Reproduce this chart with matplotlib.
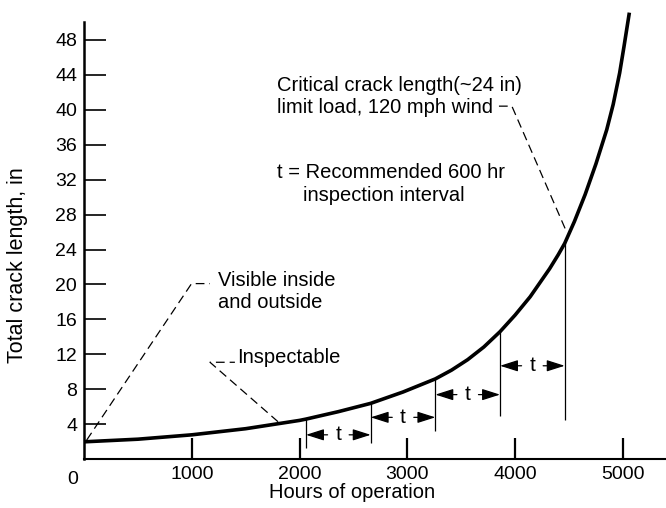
import matplotlib
matplotlib.use('Agg')
import matplotlib.pyplot as plt

# crack growth curve
hours = [0, 500, 1000, 1500, 2000, 2060, 2360, 2660, 2960, 3260, 3410, 3560, 3710, 3860,
         4000, 4140, 4320, 4400, 4460, 4550, 4650, 4750, 4850, 4910, 4970, 5010, 5060]
crack = [2.0, 2.3, 2.8, 3.5, 4.45, 4.6, 5.45, 6.4, 7.7, 9.2, 10.2, 11.4, 12.85, 14.6,
         16.5, 18.6, 21.8, 23.4, 24.7, 27.2, 30.3, 33.8, 37.7, 40.6, 44.2, 47.2, 51.1]

# 600 hr inspection marks
insp_hours = [2060, 2660, 3260, 3860, 4460]
insp_top = [4.6, 6.4, 9.2, 14.6, 24.7]
insp_bottom = [1.3, 1.9, 3.2, 5.0, 4.5]
arrow_y = [2.8, 4.8, 7.4, 10.7]

xticks = [1000, 2000, 3000, 4000, 5000]
yticks = [4, 8, 12, 16, 20, 24, 28, 32, 36, 40, 44, 48]

plt.rcParams['font.family'] = ['Liberation Sans', 'DejaVu Sans']
plt.rcParams['font.size'] = 14

fig = plt.figure(figsize=(6.66, 5.08), dpi=100)
ax = fig.add_axes([84/666, 1 - 459.3/508, 582/666, 449.3/508])
ax.set_xlim(0, 5400)
ax.set_ylim(0, 51.4)

ax.plot(hours, crack, color='black', lw=2.6, clip_on=False,
        solid_capstyle='butt', solid_joinstyle='round')
ax.vlines(insp_hours, insp_bottom, insp_top, color='black', lw=0.9)

for i in range(len(arrow_y)):
    a, b = insp_hours[i], insp_hours[i + 1]
    mid = (a + b) / 2
    y = arrow_y[i]
    for start, end in [(mid - 100, a), (mid + 100, b)]:
        ax.annotate('', xy=(end, y), xytext=(start, y),
                    arrowprops=dict(arrowstyle='-|>,head_length=1.1,head_width=0.35',
                                    color='black', lw=0.9, shrinkA=0, shrinkB=0,
                                    mutation_scale=10))
    ax.text(mid, y, 't', ha='center', va='center', fontsize=15)

dash = (0, (7, 4))
# leaders
ax.plot([25, 998, 1169], [2.2, 20.1, 20.1], color='black', lw=0.9, ls=dash)
ax.plot([1800, 1169, 1400], [4.3, 11.1, 11.1], color='black', lw=0.9, ls=dash)
ax.plot([3850, 3970, 4471], [40.4, 40.4, 26.2], color='black', lw=0.9, ls=dash)

fs = 14.5
ax.text(1790, 41.5, 'Critical crack length(~24 in)\nlimit load, 120 mph wind',
        ha='left', va='center', linespacing=1.15, fontsize=fs)
ax.text(1790, 32.8, 't = Recommended 600 hr', ha='left', va='center', fontsize=fs)
ax.text(2032, 30.2, 'inspection interval', ha='left', va='center', fontsize=fs)
ax.text(1243, 19.2, 'Visible inside\nand outside', ha='left', va='center',
        linespacing=1.15, fontsize=fs)
ax.text(1419, 11.6, 'Inspectable', ha='left', va='center', fontsize=fs)

ax.spines['top'].set_visible(False)
ax.spines['right'].set_visible(False)
ax.spines['left'].set_bounds(0, 50)
ax.spines['left'].set_linewidth(1.8)
ax.spines['bottom'].set_linewidth(1.5)

ax.set_xticks(xticks)
ax.set_yticks(yticks)
ax.tick_params(axis='x', direction='in', length=15, width=1.6, pad=5)
ax.tick_params(axis='y', direction='in', length=16, width=1.2, pad=5)
ax.text(-105, -1.3, '0', ha='center', va='top', clip_on=False)

fig.text(352/666, 1 - 493/508, 'Hours of operation', ha='center', va='center',
         fontsize=fs)
fig.text(18/666, 1 - 265/508, 'Total crack length, in', ha='center', va='center',
         rotation=90, fontsize=15.5)

fig.savefig('out.png', dpi=100)
